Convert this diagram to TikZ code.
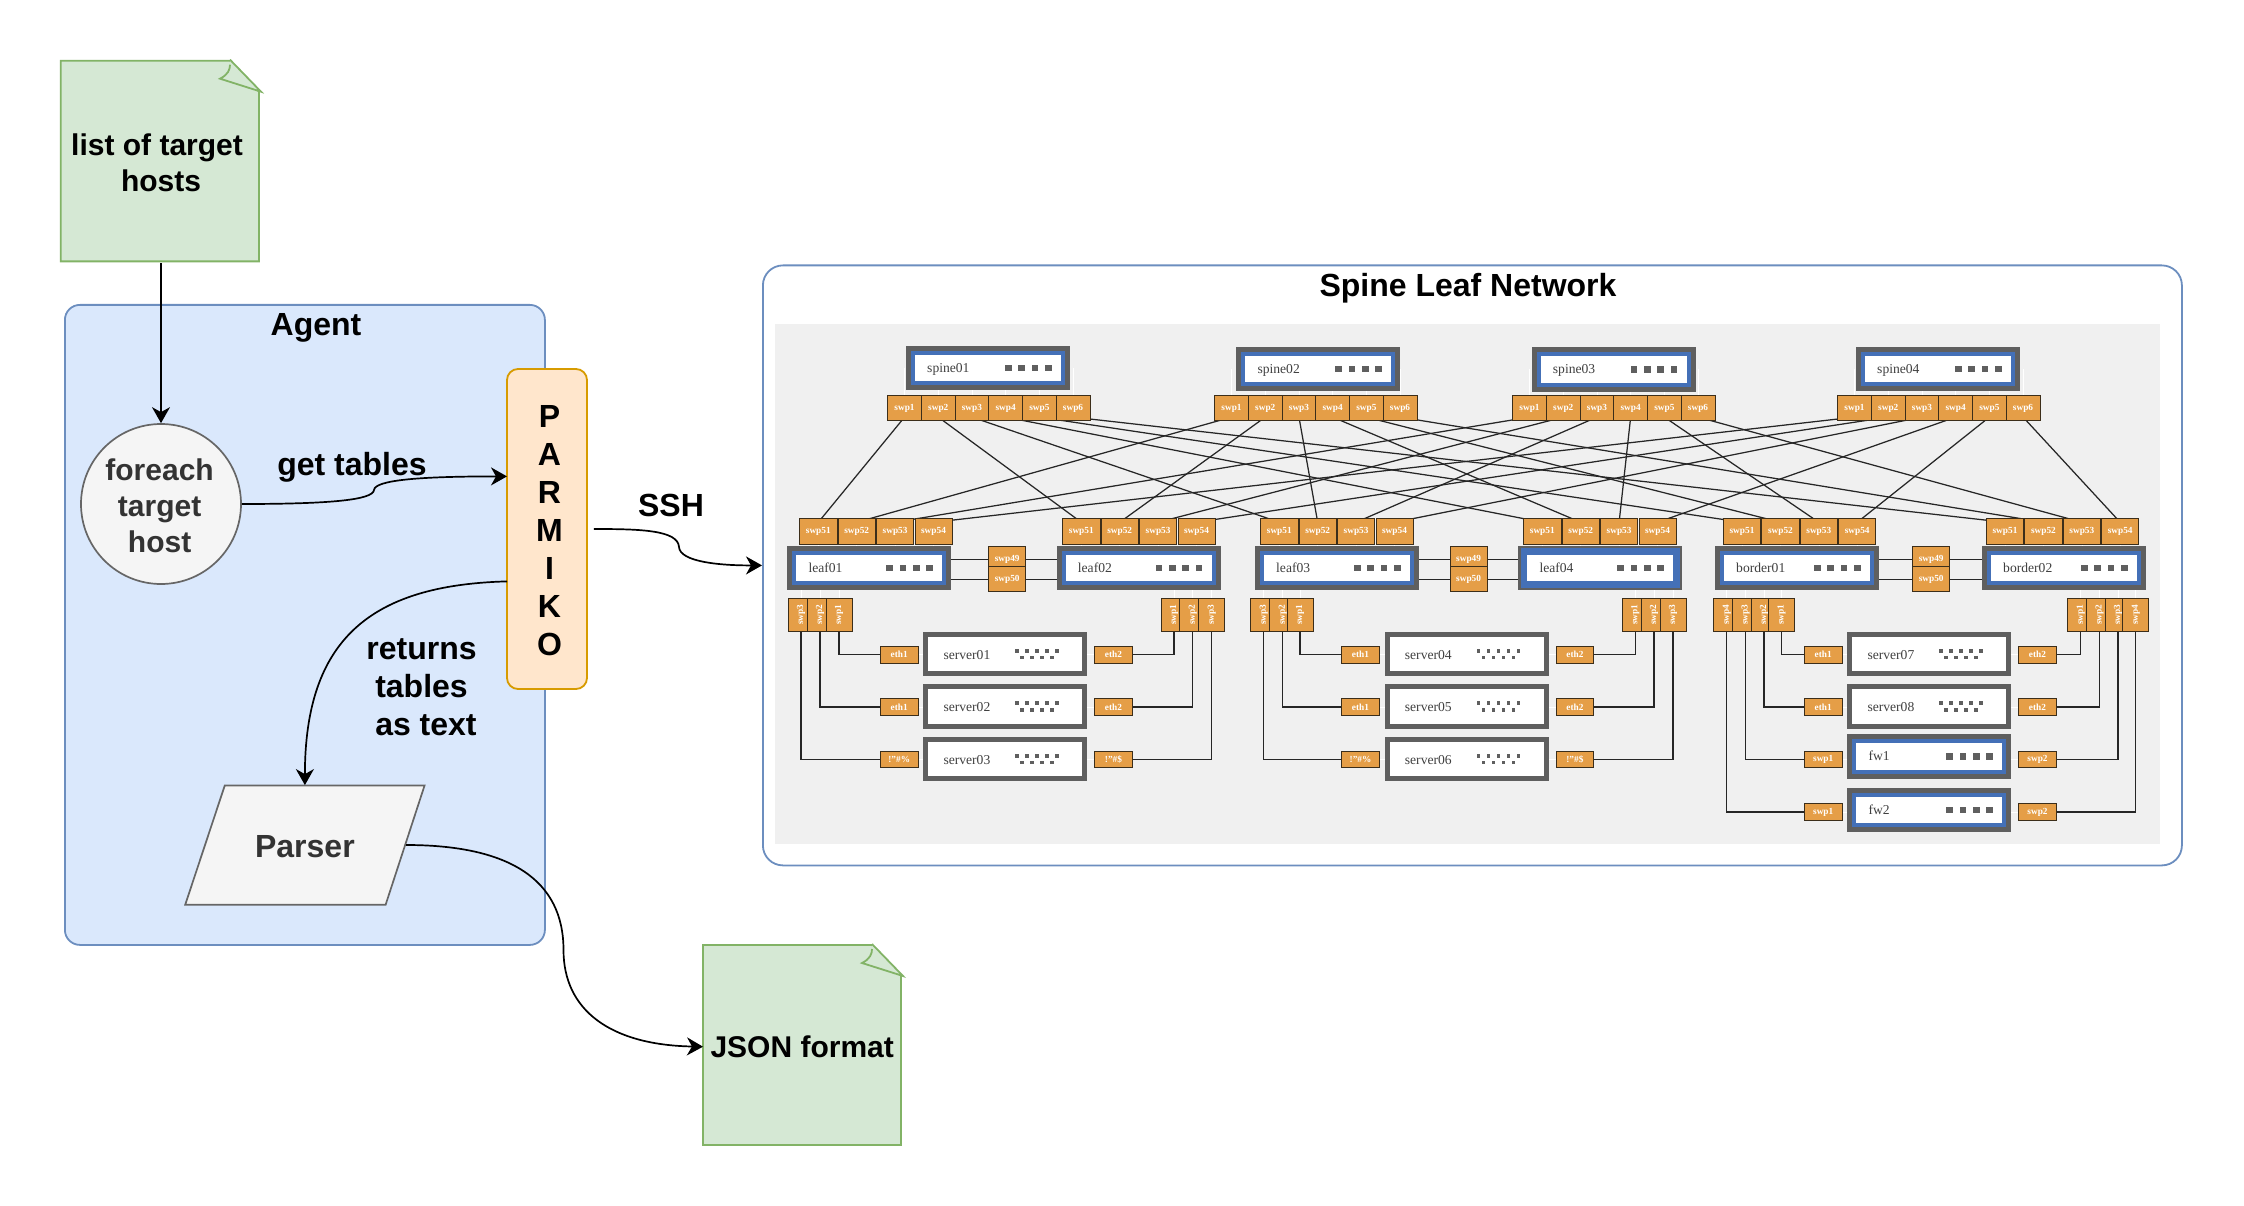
\documentclass[tikz,border=0pt]{standalone}
\usepackage{fontspec}
\usepackage{graphicx}
\setmainfont{Liberation Serif}
\newfontfamily\mysansfont{Liberation Sans}
\usetikzlibrary{calc,arrows.meta}
\definecolor{mygreenfill}{HTML}{D5E8D4}
\definecolor{mygreenline}{HTML}{82B366}
\definecolor{mybluefill}{HTML}{DAE8FC}
\definecolor{mypanelline}{HTML}{6C8EBF}
\definecolor{myorangefill}{HTML}{FFE6CC}
\definecolor{myorangeline}{HTML}{D79B00}
\definecolor{mygrayfill}{HTML}{F5F5F5}
\definecolor{mygrayline}{HTML}{666666}
\definecolor{mytextgray}{HTML}{333333}
\definecolor{mybackdrop}{HTML}{F0F0F0}
\definecolor{mydevgray}{HTML}{5F5F5F}
\definecolor{mydevblue}{HTML}{4470B7}
\definecolor{myportfill}{HTML}{E59E47}
\definecolor{myportline}{HTML}{3C2E1A}
\newcommand*{\mytextstyle}{\mysansfont\bfseries\fontsize{32}{38}\selectfont}
\newcommand*{\mynotestyle}{\mysansfont\bfseries\fontsize{30}{36}\selectfont}
\pgfdeclarelayer{backdrop}
\pgfdeclarelayer{links}
\pgfsetlayers{backdrop,links,main}
\tikzset{
   arrowline/.style = {
      draw       = black,
      line width = 1.7pt,
      -{Stealth[length=16pt,width=18pt,inset=5pt]}
   },
   graybox/.style = {
      draw       = mygrayline,
      fill       = mygrayfill,
      line width = 1.7pt
   },
   notefold/.style = {
      draw       = mygreenline,
      fill       = mygreenfill,
      line width = 1.8pt
   },
   netport/.style = {
      draw       = myportline,
      fill       = myportfill,
      line width = 0.8pt,
      inner sep  = 0pt,
      anchor     = north west,
      text       = white,
      font       = \bfseries\fontsize{9.3}{10}\selectfont
   },
   switchframe/.style = {
      draw      = mydevgray,
      fill      = mydevblue,
      inner sep = 0pt,
      anchor    = north west
   },
   whitepane/.style = {
      fill      = white,
      inner sep = 0pt
   },
   devlabel/.style = {
      inner sep = 0pt,
      anchor    = base west,
      text      = black!75,
      font      = \fontsize{13.6}{15}\selectfont
   },
   devled/.style = {
      fill         = mydevgray,
      inner sep    = 0pt,
      minimum size = 6.5pt
   },
   devdot/.style = {
      fill         = mydevgray,
      inner sep    = 0pt,
      minimum size = 3.6pt
   },
   wire/.style = {
      draw       = black!85,
      line width = 1.25pt
   },
   stub/.style = {
      draw       = white,
      line width = 0.6pt
   }
}
\newcommand{\docnote}[6]{%
   % name, left, top, width, height, text
   \pgfmathsetmacro{\xleft}{#2}
   \pgfmathsetmacro{\ytop}{#3}
   \pgfmathsetmacro{\xright}{#2+#4}
   \pgfmathsetmacro{\ybottom}{#3+#5}
   \pgfmathsetmacro{\xfold}{\xright-29}
   \pgfmathsetmacro{\yfold}{#3+31}
   \filldraw[notefold] (\xleft,\ytop) -- (\xfold,\ytop)
      -- (\xright,\yfold) -- (\xright,\ybottom)
      -- (\xleft,\ybottom) -- cycle;
   \draw[notefold] (\xfold,\ytop-1) -- (\xright+2,\yfold)
      -- (\xfold-10,\yfold-13)
      .. controls (\xfold-2,\yfold-17) and (\xfold,\yfold-22) .. (\xfold,\ytop+4);
   \node[
      inner sep      = 0pt,
      anchor         = north west,
      minimum width  = #4pt,
      minimum height = #5pt,
      yshift         = -1.5pt,
      align          = center,
      font           = \mynotestyle
   ] (#1) at (\xleft,\ytop) {#6};
}
\newcommand{\switchbox}[5][5]{%
   % gray border width, name, left, top, text
   \pgfmathsetmacro{\bwidth}{164-#1}
   \pgfmathsetmacro{\bheight}{44.3-#1}
   \node[switchframe, line width=#1pt, minimum width=\bwidth pt, minimum height=\bheight pt]
      (#2) at (#3,#4) {};
   \node[whitepane, minimum width=146pt, minimum height=26.3pt] (#2-pane) at (#2.center) {};
   \node[devlabel] (#2-label) at ($(#2.west)+(21,4.4)$) {#5};
   \foreach \idx in {0,...,3} {
      \node[devled] (#2-led\idx) at ($(#2.west)+(102.4+13.3*\idx,0)$) {};
   }
}
\newcommand{\serverbox}[4]{%
   % name, left, top, text
   \node[
      draw           = mydevgray,
      fill           = white,
      line width     = 5pt,
      inner sep      = 0pt,
      anchor         = north west,
      minimum width  = 159pt,
      minimum height = 39.3pt
   ] (#1) at (#2,#3) {};
   \node[devlabel] (#1-label) at ($(#1.west)+(20,5)$) {#4};
   \foreach \idx in {0,...,4} {
      \node[devdot] (#1-dota\idx) at ($(#1.west)+(93.7+10*\idx,-3.4)$) {};
   }
   \foreach \idx in {0,...,3} {
      \node[devdot] (#1-dotb\idx) at ($(#1.west)+(98.7+10*\idx,3.4)$) {};
   }
}
\newcommand{\spineports}[2]{%
   % switch name, left of the first port
   \foreach \idx in {1,...,6} {
      \pgfmathsetmacro{\xport}{#2+33.7*(\idx-1)}
      \node[netport, minimum width=33.7pt, minimum height=25.3pt]
         (#1-swp\idx) at (\xport,395) {swp\idx};
      \begin{pgfonlayer}{links}
         \draw[stub] (#1-swp\idx.center) -- (#1-swp\idx.center |- #1.center);
      \end{pgfonlayer}
   }
}
\newcommand{\leafports}[2]{%
   % switch name, left of the first port
   \foreach \idx in {51,...,54} {
      \pgfmathsetmacro{\xport}{#2+38.4*(\idx-51)}
      \node[netport, minimum width=37.2pt, minimum height=25.4pt]
         (#1-swp\idx) at (\xport,518.3) {swp\idx};
      \begin{pgfonlayer}{links}
         \draw[stub] (#1-swp\idx.center) -- (#1-swp\idx.center |- #1.center);
      \end{pgfonlayer}
   }
}
\newcommand{\peerports}[3]{%
   % left switch, right switch, left of the ports
   \node[netport, minimum width=37pt, minimum height=25pt] (#1-swp49) at (#3,546.3) {swp49};
   \node[netport, minimum width=37pt, minimum height=25pt] (#1-swp50) at (#3,566.3) {swp50};
   \begin{pgfonlayer}{links}
      \draw[wire] (#1-swp49.west) -- (#1-swp49.west -| #1.east);
      \draw[wire] (#1-swp50.west) -- (#1-swp50.west -| #1.east);
      \draw[wire] (#1-swp49.east) -- (#1-swp49.east -| #2.west);
      \draw[wire] (#1-swp50.east) -- (#1-swp50.east -| #2.west);
   \end{pgfonlayer}
}
\newcommand{\downport}[3]{%
   % switch name, port number, left
   \node[netport, minimum width=26pt, minimum height=33.3pt]
      (#1-swp#2) at (#3,597.7) {\rotatebox{90}{swp#2}};
   \begin{pgfonlayer}{links}
      \draw[stub] (#1-swp#2.center) -- (#1-swp#2.center |- #1.center);
   \end{pgfonlayer}
}
\newcommand{\hostports}[6]{%
   % host name, left of first port, left of second port, top, texts
   \node[netport, minimum width=37.6pt, minimum height=16.6pt] (#1-eth1) at (#2,#4) {#5};
   \node[netport, minimum width=37.6pt, minimum height=16.6pt] (#1-eth2) at (#3,#4) {#6};
   \begin{pgfonlayer}{links}
      \draw[stub] (#1-eth1.center) -- (#1-eth1.center -| #1.center);
      \draw[stub] (#1-eth2.center) -- (#1-eth2.center -| #1.center);
   \end{pgfonlayer}
}
\newcommand{\spinelink}[2]{%
   % spine port, leaf port
   \draw[wire] ($(#1.south)+(0,-4)$) -- ($(#2.north)+(0,4)$);
}
\newcommand{\hostlink}[3]{%
   % switch port, host port, side of the host port
   \draw[wire] (#1.south) |- (#2.#3);
}

\begin{document}
\begin{tikzpicture}[x=1pt,y=-1pt]
   \useasboundingbox (0,0) rectangle (2244,1206);

   % left part
   \node[
      draw            = mypanelline,
      fill            = mybluefill,
      line width      = 1.8pt,
      rounded corners = 15pt,
      anchor          = north west,
      minimum width   = 480pt,
      minimum height  = 640pt
   ] (agent) at (64,304) {};
   \node[font=\mytextstyle] (agenttitle) at (316,328) {Agent};

   \docnote{hostlist}{60.7}{60.7}{198.3}{200.7}{list of target\hspace*{6pt}\\\hspace*{2pt}hosts}

   \node[
      graybox,
      circle,
      inner sep     = 0pt,
      minimum size  = 160pt,
      align         = center,
      text          = mytextgray,
      font          = \mynotestyle
   ] (foreachhost) at (161,504) {};
   \node[
      align = center,
      text  = mytextgray,
      font  = \mynotestyle
   ] (foreachtext) at (159.6,505.5) {foreach\\target\\host};

   \node[
      draw            = myorangeline,
      fill            = myorangefill,
      line width      = 1.8pt,
      rounded corners = 11pt,
      inner sep       = 0pt,
      minimum width   = 80pt,
      minimum height  = 320pt
   ] (parmiko) at (547,529) {};
   \node[align=center, font=\mytextstyle] (parmikotext) at (549.5,530.5) {P\\A\\R\\M\\I\\K\\O};
   \coordinate (parmikoin) at (507,476.4);
   \coordinate (parmikoout) at (507,581.4);
   \coordinate (tablesbend) at (374,490);

   \filldraw[graybox] (224.8,785.4) -- (424.6,785.4) -- (385.6,904.8) -- (185.2,904.8) -- cycle;
   \node[
      inner sep      = 0pt,
      minimum width  = 202pt,
      minimum height = 119.4pt,
      text           = mytextgray
   ] (parser) at (304.9,845) {};
   \node[text=mytextgray, font=\mytextstyle] (parsertext) at (304.9,846.5) {Parser};

   \docnote{jsonfile}{703}{945}{198}{200}{JSON format}

   \draw[arrowline] (foreachhost.north |- hostlist.south) -- (foreachhost.north);
   \draw[arrowline] (foreachhost.east)
      .. controls (330,504) and (373,500) .. (tablesbend)
      .. controls (375,480) and (420,476.4) .. (parmikoin);
   \draw[arrowline] (parmikoout)
      .. controls (370,585) and (304.9,640) .. (parser.north);
   \coordinate (jsonbend) at (563.5,950);
   \draw[arrowline] (parser.east)
      .. controls (510,845) and (563.5,880) .. (jsonbend)
      .. controls (563.5,1010) and (610,1045) .. (jsonfile.west);

   \node[font=\mytextstyle] (gettables) at (352,467.5) {get tables};
   \node[font=\mytextstyle, align=center] (returnstext) at (421.5,687)
      {returns\\tables\\\hspace*{8.9pt}as text};
   \node[font=\mytextstyle] (sshlabel) at (671,505) {SSH};

   % network
   \begin{pgfonlayer}{backdrop}
      \node[
         draw            = mypanelline,
         fill            = white,
         line width      = 1.8pt,
         rounded corners = 20pt,
         anchor          = north west,
         minimum width   = 1419pt,
         minimum height  = 600pt
      ] (netbox) at (762,264.5) {};
      \node[
         fill           = mybackdrop,
         anchor         = north west,
         minimum width  = 1385pt,
         minimum height = 520pt
      ] (netpanel) at (775,324) {};
   \end{pgfonlayer}
   \node[font=\mytextstyle] (nettitle) at (1468,288) {Spine Leaf Network};
   \draw[arrowline, shorten <=6pt] (parmiko.east)
      .. controls (640,529) and (678,530) .. (679,547)
      .. controls (680,562) and (720,565.5) .. (netbox.west);

   \switchbox{spine01}{906}{346}{spine01}
   \switchbox{spine02}{1236.3}{346.6}{spine02}
   \switchbox{spine03}{1531.7}{347.3}{spine03}
   \switchbox{spine04}{1856}{346.6}{spine04}
   \spineports{spine01}{887.3}
   \spineports{spine02}{1214.3}
   \spineports{spine03}{1512.3}
   \spineports{spine04}{1837.3}

   \switchbox{leaf01}{787.3}{545.7}{leaf01}
   \switchbox{leaf02}{1056.7}{545.7}{leaf02}
   \switchbox{leaf03}{1255}{545.7}{leaf03}
   \switchbox[2.3]{leaf04}{1518.3}{545.7}{leaf04}
   \switchbox{border01}{1715}{545.7}{border01}
   \switchbox{border02}{1982}{545.7}{border02}
   \leafports{leaf01}{799.3}
   \leafports{leaf02}{1062.3}
   \leafports{leaf03}{1260.3}
   \leafports{leaf04}{1523.3}
   \leafports{border01}{1723}
   \leafports{border02}{1986}
   \peerports{leaf01}{leaf02}{988.3}
   \peerports{leaf03}{leaf04}{1449.7}
   \peerports{border01}{border02}{1912.3}

   \downport{leaf01}{3}{787.7}
   \downport{leaf01}{2}{806.7}
   \downport{leaf01}{1}{825.7}
   \downport{leaf02}{1}{1160.7}
   \downport{leaf02}{2}{1179.3}
   \downport{leaf02}{3}{1198.3}
   \downport{leaf03}{3}{1250.3}
   \downport{leaf03}{2}{1269.3}
   \downport{leaf03}{1}{1286.7}
   \downport{leaf04}{1}{1622}
   \downport{leaf04}{2}{1640.7}
   \downport{leaf04}{3}{1659.7}
   \downport{border01}{4}{1713.3}
   \downport{border01}{3}{1732}
   \downport{border01}{2}{1750.7}
   \downport{border01}{1}{1768}
   \downport{border02}{1}{2067.3}
   \downport{border02}{2}{2086}
   \downport{border02}{3}{2104.7}
   \downport{border02}{4}{2122.3}

   \serverbox{server01}{923.3}{632}{server01}
   \serverbox{server02}{923.3}{684.3}{server02}
   \serverbox{server03}{923.3}{737}{server03}
   \serverbox{server04}{1384.7}{632}{server04}
   \serverbox{server05}{1384.7}{684.3}{server05}
   \serverbox{server06}{1384.7}{737}{server06}
   \serverbox{server07}{1847.3}{632}{server07}
   \serverbox{server08}{1847.3}{684.3}{server08}
   \switchbox{fw1}{1847.3}{734.3}{fw1}
   \switchbox{fw2}{1847.3}{788}{fw2}

   \hostports{server01}{880}{1094.3}{646}{eth1}{eth2}
   \hostports{server02}{880}{1094.3}{698.3}{eth1}{eth2}
   \hostports{server03}{880}{1094.3}{750.7}{!"\#\%}{!"\#\$}
   \hostports{server04}{1341.3}{1555.7}{646}{eth1}{eth2}
   \hostports{server05}{1341.3}{1555.7}{698.3}{eth1}{eth2}
   \hostports{server06}{1341.3}{1555.7}{750.7}{!"\#\%}{!"\#\$}
   \hostports{server07}{1804}{2018.3}{646}{eth1}{eth2}
   \hostports{server08}{1804}{2018.3}{698.3}{eth1}{eth2}
   \hostports{fw1}{1804}{2018.3}{750.7}{swp1}{swp2}
   \hostports{fw2}{1804}{2018.3}{803.3}{swp1}{swp2}

   \begin{pgfonlayer}{links}
      \spinelink{spine01-swp1}{leaf01-swp51}
      \spinelink{spine01-swp2}{leaf02-swp51}
      \spinelink{spine01-swp3}{leaf03-swp51}
      \spinelink{spine01-swp4}{leaf04-swp51}
      \spinelink{spine01-swp5}{border01-swp51}
      \spinelink{spine01-swp6}{border02-swp51}
      \spinelink{spine02-swp1}{leaf01-swp52}
      \spinelink{spine02-swp2}{leaf02-swp52}
      \spinelink{spine02-swp3}{leaf03-swp52}
      \spinelink{spine02-swp4}{leaf04-swp52}
      \spinelink{spine02-swp5}{border01-swp52}
      \spinelink{spine02-swp6}{border02-swp52}
      \spinelink{spine03-swp1}{leaf01-swp53}
      \spinelink{spine03-swp2}{leaf02-swp53}
      \spinelink{spine03-swp3}{leaf03-swp53}
      \spinelink{spine03-swp4}{leaf04-swp53}
      \spinelink{spine03-swp5}{border01-swp53}
      \spinelink{spine03-swp6}{border02-swp53}
      \spinelink{spine04-swp1}{leaf01-swp54}
      \spinelink{spine04-swp2}{leaf02-swp54}
      \spinelink{spine04-swp3}{leaf03-swp54}
      \spinelink{spine04-swp4}{leaf04-swp54}
      \spinelink{spine04-swp5}{border01-swp54}
      \spinelink{spine04-swp6}{border02-swp54}

      \hostlink{leaf01-swp1}{server01-eth1}{west}
      \hostlink{leaf01-swp2}{server02-eth1}{west}
      \hostlink{leaf01-swp3}{server03-eth1}{west}
      \hostlink{leaf02-swp1}{server01-eth2}{east}
      \hostlink{leaf02-swp2}{server02-eth2}{east}
      \hostlink{leaf02-swp3}{server03-eth2}{east}
      \hostlink{leaf03-swp1}{server04-eth1}{west}
      \hostlink{leaf03-swp2}{server05-eth1}{west}
      \hostlink{leaf03-swp3}{server06-eth1}{west}
      \hostlink{leaf04-swp1}{server04-eth2}{east}
      \hostlink{leaf04-swp2}{server05-eth2}{east}
      \hostlink{leaf04-swp3}{server06-eth2}{east}
      \hostlink{border01-swp1}{server07-eth1}{west}
      \hostlink{border01-swp2}{server08-eth1}{west}
      \hostlink{border01-swp3}{fw1-eth1}{west}
      \hostlink{border01-swp4}{fw2-eth1}{west}
      \hostlink{border02-swp1}{server07-eth2}{east}
      \hostlink{border02-swp2}{server08-eth2}{east}
      \hostlink{border02-swp3}{fw1-eth2}{east}
      \hostlink{border02-swp4}{fw2-eth2}{east}
   \end{pgfonlayer}
\end{tikzpicture}
\end{document}
